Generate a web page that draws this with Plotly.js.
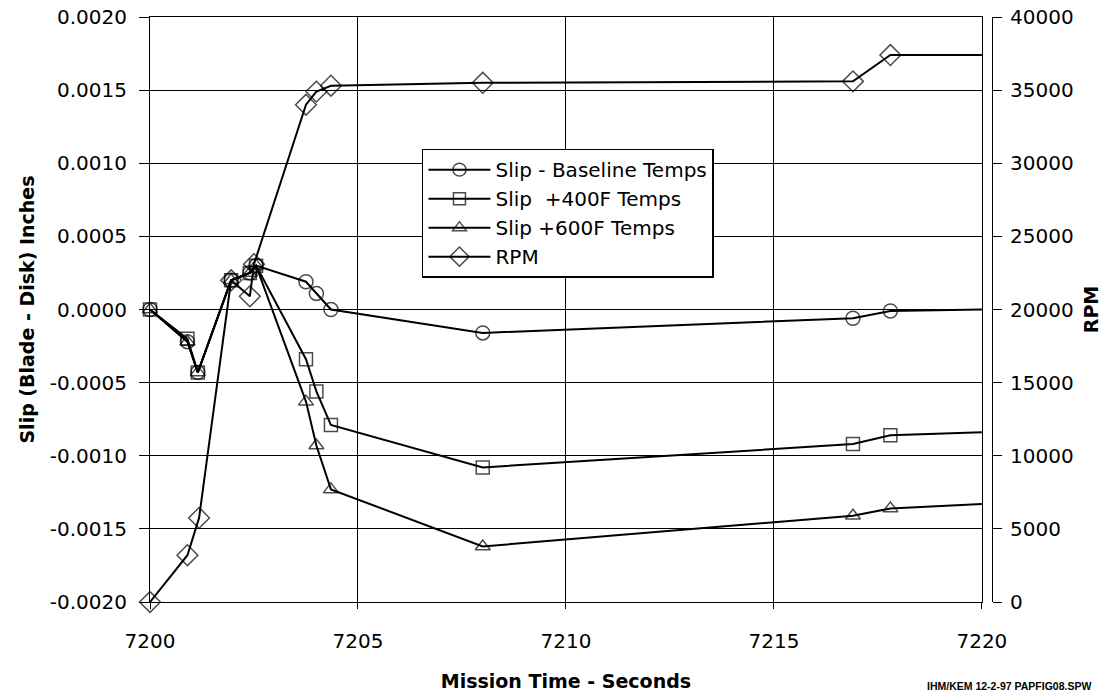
<!DOCTYPE html>
<html>
<head>
<meta charset="utf-8">
<script src="https://cdn.plot.ly/plotly-3.0.1.min.js"></script>
<style>html,body{margin:0;padding:0;background:#fff;}#chart{width:1109px;height:694px;}</style>
</head>
<body>
<div id="chart"></div>
<script>
// Mission time (s)
const slipTime = [7200, 7200.9, 7201.15, 7201.95, 7202.4, 7202.55, 7203.75, 7204.0, 7204.35, 7208.0, 7216.9, 7217.8, 7220];
const rpmTime  = [7200, 7200.9, 7201.18, 7201.95, 7202.4, 7202.5, 7203.75, 7204.0, 7204.35, 7208.0, 7216.9, 7217.8, 7220];
// Slip (Blade - Disk) inches
const slipBaseline = [0, -0.00022, -0.00043, 0.00020, 0.00025, 0.00030, 0.00019, 0.00011, 0.00000, -0.00016, -0.00006, -0.00001, 0.00000];
const slip400F     = [0, -0.00020, -0.00043, 0.00020, 0.00025, 0.00030, -0.00034, -0.00056, -0.00079, -0.00108, -0.00092, -0.00086, -0.00084];
const slip600F     = [0, -0.00022, -0.00043, 0.00020, 0.00025, 0.00030, -0.00063, -0.00093, -0.00123, -0.00162, -0.00141, -0.00136, -0.00133];
// RPM
const rpm = [0, 3200, 5750, 22000, 20900, 23100, 34000, 34900, 35300, 35500, 35600, 37400, 37400];

const seriesNames = ['Slip - Baseline Temps', 'Slip  +400F Temps', 'Slip +600F Temps', 'RPM'];
const xTicks = [7200, 7205, 7210, 7215, 7220];
const yTicks = [-0.002, -0.0015, -0.001, -0.0005, 0, 0.0005, 0.001, 0.0015, 0.002];
const yTickText = ['-0.0020', '-0.0015', '-0.0010', '-0.0005', '0.0000', '0.0005', '0.0010', '0.0015', '0.0020'];
const y2Ticks = [0, 5000, 10000, 15000, 20000, 25000, 30000, 35000, 40000];

// last point of each series is the line end at the plot edge (no marker)
function sizes(n, s) { return Array.from({length: n}, (_, i) => i === n - 1 ? 0 : s); }

const FAM = 'DejaVu Sans, Liberation Sans, Arial, sans-serif';
const lineStyle = {color: '#000', width: 2};
function trace(x, y, name, symbol, size, axis) {
  return {
    x: x, y: y, name: name, type: 'scatter', mode: 'lines+markers',
    yaxis: axis, line: lineStyle, cliponaxis: false,
    marker: {symbol: symbol, size: sizes(x.length, size), color: '#000', line: {color: '#000', width: 1.5}}
  };
}

const data = [
  trace(slipTime, slipBaseline, seriesNames[0], 'circle-open', 14, 'y'),
  trace(slipTime, slip400F, seriesNames[1], 'square-open', 13, 'y'),
  trace(slipTime, slip600F, seriesNames[2], 'triangle-up-open', 13, 'y'),
  trace(rpmTime, rpm, seriesNames[3], 'diamond-open', 16, 'y2')
];

const layout = {
  width: 1109, height: 694,
  margin: {l: 150, r: 117, t: 17, b: 92},
  paper_bgcolor: '#fff', plot_bgcolor: '#fff',
  font: {family: FAM, size: 20, color: '#000'},
  showlegend: true,
  legend: {
    x: 0.323, y: 0.775, xanchor: 'left', yanchor: 'top',
    bgcolor: '#fff', bordercolor: '#000', borderwidth: 1.5,
    font: {family: FAM, size: 20, color: '#000'},
    itemwidth: 62, tracegroupgap: 0
  },
  xaxis: {
    domain: [0, 0.988],
    range: [7200, 7220], tickvals: xTicks, ticktext: xTicks.map(String),
    showgrid: true, gridcolor: '#000', gridwidth: 1,
    showline: true, linecolor: '#000', linewidth: 1, mirror: true,
    ticks: 'outside', ticklen: 6, tickcolor: '#000',
    ticklabelstandoff: 15,
    zeroline: false,
    tickfont: {family: FAM, size: 20},
    title: {text: 'Mission Time - Seconds', standoff: 22,
            font: {family: FAM, size: 19, weight: 'bold'}}
  },
  yaxis: {
    range: [-0.002, 0.002], tickvals: yTicks, ticktext: yTickText,
    showgrid: true, gridcolor: '#000', gridwidth: 1,
    showline: true, linecolor: '#000', linewidth: 1, mirror: true,
    ticks: 'outside', ticklen: 10, tickcolor: '#000',
    ticklabelstandoff: 8,
    zeroline: false,
    tickfont: {family: FAM, size: 20},
    title: {text: 'Slip (Blade - Disk) Inches', standoff: 10,
            font: {family: FAM, size: 19, weight: 'bold'}}
  },
  yaxis2: {
    overlaying: 'y', side: 'right', anchor: 'free', position: 1,
    range: [0, 40000], tickvals: y2Ticks, tickformat: 'd',
    showgrid: false, zeroline: false,
    showline: true, linecolor: '#000', linewidth: 1,
    ticks: 'outside', ticklen: 9, tickcolor: '#000',
    ticklabelstandoff: 4,
    tickfont: {family: FAM, size: 20},
    title: {text: 'RPM', standoff: 12,
            font: {family: FAM, size: 19, weight: 'bold'}}
  },
  annotations: [{
    text: 'IHM/KEM 12-2-97 PAPFIG08.SPW', xref: 'paper', yref: 'paper',
    x: 1.12, y: -0.143, xanchor: 'right', yanchor: 'middle', showarrow: false,
    font: {family: 'Liberation Sans, Arial, sans-serif', size: 10.5, color: '#000', weight: 'bold'}
  }]
};

Plotly.newPlot('chart', data, layout, {staticPlot: true, displayModeBar: false});
</script>
</body>
</html>
